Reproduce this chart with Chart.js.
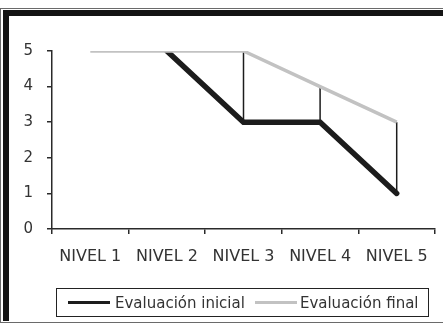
<!DOCTYPE html>
<html>
<head>
<meta charset="utf-8">
<script src="https://cdn.jsdelivr.net/npm/chart.js@4"></script>
<style>
  html, body { margin: 0; padding: 0; background: #fff; overflow: hidden; }
  body { width: 443px; height: 325px; position: relative; font-family: "DejaVu Sans", sans-serif; }
  .frame-thin { position: absolute; left: 0; top: 8px; width: 470px; height: 313px;
    border: 1px solid #6a6a6a; border-right: none; }
  .frame-thick { position: absolute; left: 3px; top: 10px; width: 470px; height: 305px;
    border-left: 6px solid #141414; border-top: 6px solid #141414; }
  #wrap { position: absolute; left: 0; top: 0; width: 443px; height: 325px; }
  #legend { position: absolute; left: 56px; top: 288px; width: 371px; height: 27px;
    border: 1.5px solid #222; display: flex; align-items: center; font-size: 15px; color: #333;
    white-space: nowrap; }
  #legend .item { display: flex; align-items: center; }
  #legend .swatch { display: inline-block; width: 42px; height: 2.5px; margin-right: 5px; }
</style>
</head>
<body>
<div class="frame-thin"></div>
<div class="frame-thick"></div>
<div id="wrap"><canvas id="chart" width="443" height="325"></canvas></div>
<div id="legend"></div>
<script>
// Levels evaluated and the score reached at each one (0–5 scale)
const categories = ["NIVEL 1", "NIVEL 2", "NIVEL 3", "NIVEL 4", "NIVEL 5"];
const evaluacionInicial = [null, 5, 3, 3, 1];
const evaluacionFinal = [5, 5, 5, 4, 3];
const seriesNames = ["Evaluación inicial", "Evaluación final"];
const yMin = 0, yMax = 5, yStep = 1;

const ink = "#1c1c1c";
const grey = "#c2c2c2";
const axisColor = "#2a2a2a";
const textColor = "#333333";

// Vertical drop lines joining both series at each level
const dropLines = {
  id: "dropLines",
  beforeDatasetsDraw(chart) {
    const { ctx, scales: { x, y } } = chart;
    const a = chart.data.datasets[0].data;
    const b = chart.data.datasets[1].data;
    ctx.save();
    ctx.strokeStyle = ink;
    ctx.lineWidth = 1.5;
    for (let i = 0; i < categories.length; i++) {
      if (a[i] == null || b[i] == null || a[i] === b[i]) continue;
      const px = x.getPixelForValue(i);
      ctx.beginPath();
      ctx.moveTo(px, y.getPixelForValue(a[i]));
      ctx.lineTo(px, y.getPixelForValue(b[i]));
      ctx.stroke();
    }
    ctx.restore();
  }
};

const chart = new Chart(document.getElementById("chart"), {
  type: "line",
  data: {
    labels: categories,
    datasets: [
      {
        label: seriesNames[0],
        data: evaluacionInicial,
        borderColor: ink,
        borderWidth: 5.5,
        borderCapStyle: "round",
        borderJoinStyle: "miter",
        pointRadius: 0,
        tension: 0,
        spanGaps: false,
        order: 1
      },
      {
        label: seriesNames[1],
        data: evaluacionFinal,
        borderColor: grey,
        borderWidth: 3.5,
        borderCapStyle: "butt",
        borderJoinStyle: "miter",
        pointRadius: 0,
        tension: 0,
        order: 0
      }
    ]
  },
  options: {
    responsive: false,
    animation: false,
    events: [],
    layout: { padding: { left: 0, right: 8, top: 51, bottom: 56 } },
    plugins: { legend: { display: false }, tooltip: { enabled: false } },
    scales: {
      x: {
        offset: true,
        grid: { offset: true, drawOnChartArea: false, drawTicks: true, tickLength: 5,
                color: axisColor, lineWidth: 1.5 },
        border: { display: true, color: axisColor, width: 1.5 },
        ticks: { color: textColor, font: { family: "DejaVu Sans", size: 16 }, padding: 13,
                 maxRotation: 0, autoSkip: false },
        afterFit(scale) { scale.height = 40; }
      },
      y: {
        min: yMin, max: yMax,
        grid: { drawOnChartArea: false, drawTicks: true, tickLength: 5,
                color: axisColor, lineWidth: 1.5 },
        border: { display: true, color: axisColor, width: 1.5 },
        ticks: { stepSize: yStep, color: textColor, font: { family: "DejaVu Sans", size: 15 },
                 padding: 14 },
        afterFit(scale) { scale.width = 52; }
      }
    }
  },
  plugins: [dropLines]
});

// Boxed legend under the plot, built from the dataset names and colours
const legend = document.getElementById("legend");
const gaps = ["11px", "10px"];
chart.data.datasets.forEach((ds, i) => {
  const item = document.createElement("span");
  item.className = "item";
  item.style.marginLeft = gaps[i];
  const sw = document.createElement("span");
  sw.className = "swatch";
  sw.style.background = ds.borderColor;
  if (i === 1) sw.style.marginRight = "3px";
  const tx = document.createElement("span");
  tx.textContent = ds.label;
  item.appendChild(sw);
  item.appendChild(tx);
  legend.appendChild(item);
});
</script>
</body>
</html>
